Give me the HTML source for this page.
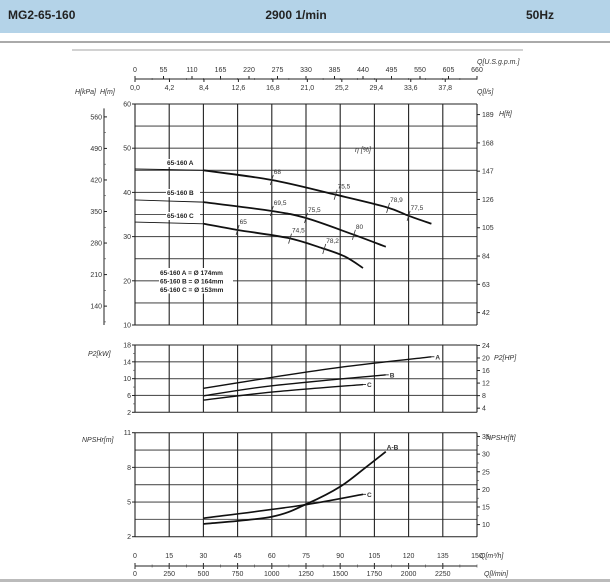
<!DOCTYPE html>
<html><head><meta charset="utf-8"><style>
body{margin:0;background:#fff;width:610px;height:582px;overflow:hidden;font-family:"Liberation Sans",sans-serif}
svg text{font-family:"Liberation Sans",sans-serif}
</style></head><body>
<svg id="c" width="610" height="582" viewBox="0 0 610 582" xmlns="http://www.w3.org/2000/svg">
<rect x="0" y="0" width="610" height="33" fill="#b4d3e8"/>
<text x="8" y="19" font-size="12" font-weight="bold" fill="#222">MG2-65-160</text>
<text x="296" y="19" font-size="12" font-weight="bold" fill="#222" text-anchor="middle">2900 1/min</text>
<text x="540" y="19" font-size="12" font-weight="bold" fill="#222" text-anchor="middle">50Hz</text>
<line x1="0" y1="42" x2="610" y2="42" stroke="#555" stroke-width="1"/>
<line x1="72" y1="50" x2="523" y2="50" stroke="#888" stroke-width="0.8"/>
<g id="g"></g>
</svg>
<script>
const qTicks=[0,15,30,45,60,75,90,105,120,135,150];
const gpmLabels=["0","55","110","165","220","275","330","385","440","495","550","605","660"];
const lsLabels=["0,0","4,2","8,4","12,6","16,8","21,0","25,2","29,4","33,6","37,8"];
const lminLabels=["0","250","500","750","1000","1250","1500","1750","2000","2250"];
const hTicks=[10,20,30,40,50,60];
const kpaTicks=[140,210,280,350,420,490,560];
const ftTicks=[42,63,84,105,126,147,168,189];
const pTicks=[2,6,10,14,18];
const hpTicks=[4,8,12,16,20,24];
const nTicks=[2,5,8,11];
const nftTicks=[10,15,20,25,30,35];
const curveA=[[0,45.3],[30,45],[60,42.8],[87,39.6],[110,36.7],[120,34.7],[130,32.9]];
const curveB=[[0,38.3],[30,37.8],[60,35.8],[75,34.2],[95,30.6],[110,27.7]];
const curveC=[[0,33.3],[30,32.9],[45,31.5],[67,29.7],[82,27.4],[92,25.5],[100,22.9]];
const effA=[[60,"68"],[88,"75,5"],[111,"78,9"],[120,"77,5"]];
const effB=[[60,"69,5"],[75,"75,5"],[96,"80"]];
const effC=[[45,"65"],[68,"74,5"],[83,"78,2"]];
const powerA=[[30,7.7],[60,10.3],[90,12.7],[130,15.2]];
const powerB=[[30,5.9],[60,8.3],[110,10.9]];
const powerC=[[30,4.9],[60,6.8],[100,8.6]];
const npshAB=[[30,3.1],[60,3.73],[76,4.9],[90,6.33],[101.6,8.06],[110,9.36]];
const npshC=[[30,3.6],[72.5,4.7],[100,5.67]];

const X0=135,X1=477;
const xq=q=>X0+(X1-X0)*q/150;
const yh=h=>104+(60-h)*(221/50);
const yp=p=>345+(18-p)*(67.3/16);
const yn=n=>432.7+(11-n)*(104/9);
const g=document.getElementById('g');
const NS='http://www.w3.org/2000/svg';
function el(t,a,p){const e=document.createElementNS(NS,t);for(const k in a)e.setAttribute(k,a[k]);(p||g).appendChild(e);return e;}
function txt(x,y,s,fs,anchor,extra){const t=el('text',Object.assign({x:x,y:y,'font-size':fs||7,fill:'#333','text-anchor':anchor||'middle'},extra||{}));t.textContent=s;return t;}
function line(x1,y1,x2,y2,c,w){return el('line',{x1:x1,y1:y1,x2:x2,y2:y2,stroke:c||'#222','stroke-width':w||1});}
function smooth(pts,fx,fy,w){const P=pts.map(p=>[fx(p[0]),fy(p[1])]);let d='M'+P[0][0]+','+P[0][1];for(let i=0;i<P.length-1;i++){const p0=P[i-1]||P[i],p1=P[i],p2=P[i+1],p3=P[i+2]||p2;d+='C'+(p1[0]+(p2[0]-p0[0])/6)+','+(p1[1]+(p2[1]-p0[1])/6)+' '+(p2[0]-(p3[0]-p1[0])/6)+','+(p2[1]-(p3[1]-p1[1])/6)+' '+p2[0]+','+p2[1];}return el('path',{d:d,fill:'none',stroke:'#111','stroke-width':w||1.8});}

let ax=line(X0,79,X1,79,'#222',1);
let t;
gpmLabels.forEach((s,i)=>{const x=X0+(X1-X0)*i/12;line(x,76,x,79);t=txt(x,72,s);});
lsLabels.forEach((s,i)=>{const x=X0+(X1-X0)*(i*4.2)/41.67;line(x,79,x,82);t=txt(x,90,s);});
for(let i=0;i<=20;i++){const x=X0+(X1-X0)*i/20;line(x,78,x,80,'#444',0.6);}
t=txt(477,64,'Q[U.S.g.p.m.]',7,'start',{'font-style':'italic'});
t=txt(477,94,'Q[l/s]',7,'start',{'font-style':'italic'});
t=txt(75,94,'H[kPa]',7,'start',{'font-style':'italic'});
t=txt(100,94,'H[m]',7,'start',{'font-style':'italic'});
t=txt(499,116,'H[ft]',7,'start',{'font-style':'italic'});

function grid(yTop,yBot,hvals,fy){
  hvals.forEach(v=>{const y=fy(v);line(X0,y,X1,y,'#555',1.1);});
  qTicks.forEach(q=>{line(xq(q),yTop,xq(q),yBot,'#222',1.1);});
  line(X0,yTop,X1,yTop,'#222',1);line(X0,yBot,X1,yBot,'#222',1);
}
grid(yh(60),yh(10),[15,20,25,30,35,40,45,50,55],yh);
hTicks.forEach(h=>{line(X0-3,yh(h),X0,yh(h));t=txt(X0-4,yh(h)+2.5,String(h),7,'end');});
line(104,yh(59),104,yh(10));
kpaTicks.forEach(k=>{const y=yh(k/9.81);line(104,y,107,y);t=txt(102,y+2.5,String(k),7,'end');});
for(let k=105;k<=595;k+=70){const y=yh(k/9.81);if(y>yh(60)&&y<yh(10))line(104,y,106,y,'#444',0.6);}
ftTicks.forEach(f=>{const y=yh(f*0.3048);line(X1,y,X1+3,y);t=txt(X1+5,y+2.5,String(f),7,'start');});
let p;
function headCurve(c,name){
  const thin=c.filter(d=>d[0]<=30), thick=c.filter(d=>d[0]>=30);
  p=smooth(thin,xq,yh,0.9);
  p=smooth(thick,xq,yh,1.8);
}
headCurve(curveA,'head-curve-a');headCurve(curveB,'head-curve-b');headCurve(curveC,'head-curve-c');
function interp(c,q){for(let i=0;i<c.length-1;i++){if(q>=c[i][0]&&q<=c[i+1][0]){const f=(q-c[i][0])/(c[i+1][0]-c[i][0]);return c[i][1]+f*(c[i+1][1]-c[i][1]);}}return c[c.length-1][1];}
function eff(c,list){list.forEach(e=>{const x=xq(e[0]),y=yh(interp(c,e[0]));line(x-1.5,y+5,x+1.5,y-5,'#333',0.8);t=txt(x+2,y-6,e[1],6.5,'start');});}
eff(curveA,effA);eff(curveB,effB);eff(curveC,effC);
t=txt(355,152,'η [%]',7,'start',{'font-style':'italic'});
[['65-160 A',165],['65-160 B',195],['65-160 C',218]].forEach(a=>{el('rect',{x:166,y:a[1]-6,width:34,height:8,fill:'#fff'});t=txt(167,a[1],a[0],6.5,'start',{'font-weight':'bold',fill:'#222'});});
['65-160 A = Ø 174mm','65-160 B = Ø 164mm','65-160 C = Ø 153mm'].forEach((s,i)=>{el('rect',{x:159,y:268+i*8.5,width:74,height:8.5,fill:'#fff'});t=txt(160,275+i*8.5,s,6.5,'start',{'font-weight':'bold',fill:'#222'});});

grid(yp(18),yp(2),[6,10,14],yp);
pTicks.forEach(v=>{line(X0-3,yp(v),X0,yp(v));t=txt(X0-4,yp(v)+2.5,String(v),7,'end');});
for(let v=4;v<=16;v+=4)line(X0-2,yp(v),X0,yp(v),'#444',0.6);
hpTicks.forEach(v=>{const y=yp(v/1.341);line(X1,y,X1+3,y);t=txt(X1+5,y+2.5,String(v),7,'start');});
t=txt(88,356,'P2[kW]',7,'start',{'font-style':'italic'});
t=txt(494,360,'P2[HP]',7,'start',{'font-style':'italic'});
p=smooth(powerA,xq,yp,1.4);
p=smooth(powerB,xq,yp,1.4);
p=smooth(powerC,xq,yp,1.4);
[[powerA,'A'],[powerB,'B'],[powerC,'C']].forEach(a=>{const e=a[0][a[0].length-1];line(xq(e[0]),yp(e[1]),xq(e[0])+3,yp(e[1]),'#111',0.8);t=txt(xq(e[0])+4,yp(e[1])+2.5,a[1],6.5,'start',{'font-weight':'bold'});});

grid(yn(11),yn(2),[3.5,5,6.5,8,9.5],yn);
nTicks.forEach(v=>{line(X0-3,yn(v),X0,yn(v));t=txt(X0-4,yn(v)+2.5,String(v),7,'end');});
nftTicks.forEach(v=>{const y=yn(v*0.3048);line(X1,y,X1+3,y);t=txt(X1+5,y+2.5,String(v),7,'start');});
for(let v=12.5;v<35;v+=5)line(X1,yn(v*0.3048),X1+2,yn(v*0.3048),'#444',0.6);
line(X1,yn(11),X1,yn(2));
t=txt(82,442,'NPSHr[m]',7,'start',{'font-style':'italic'});
t=txt(486,440,'NPSHr[ft]',7,'start',{'font-style':'italic'});
p=smooth(npshAB,xq,yn,1.8);
p=smooth(npshC,xq,yn,1.6);
{const e=npshAB[npshAB.length-1];t=txt(xq(e[0])+1,yn(e[1])-2,'A-B',6.5,'start',{'font-weight':'bold'});}
{const e=npshC[npshC.length-1];line(xq(e[0]),yn(e[1]),xq(e[0])+3,yn(e[1]),'#111',0.8);t=txt(xq(e[0])+4,yn(e[1])+2.5,'C',6.5,'start',{'font-weight':'bold'});}
line(X1,yh(60),X1,yh(10));line(X1,yp(18),X1,yp(2));

qTicks.forEach(q=>{t=txt(xq(q),558,String(q),7);});
t=txt(480,558,'Q[m³/h]',7,'start',{'font-style':'italic'});
line(X0,566,X1,566);
lminLabels.forEach((s,i)=>{const x=xq(i*15);line(x,563,x,569);t=txt(x,576,s,7);});
for(let i=0;i<=20;i++){const x=xq(i*7.5);line(x,564.5,x,567.5,'#444',0.6);}
t=txt(484,576,'Q[l/min]',7,'start',{'font-style':'italic'});
el('rect',{x:0,y:579,width:610,height:3,fill:'#bbb'});
</script>
</body></html>
